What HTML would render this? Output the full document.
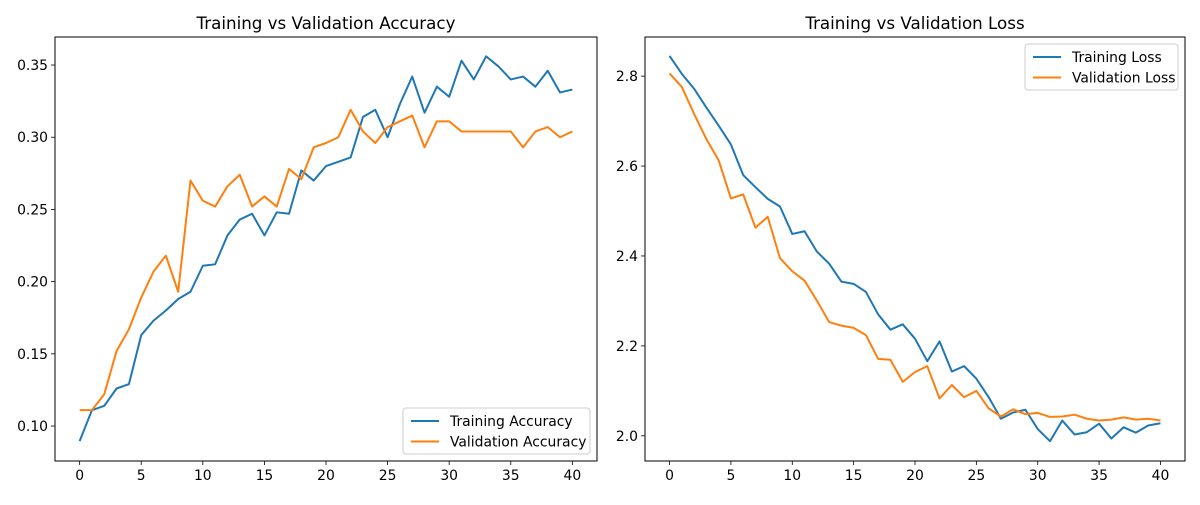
<!DOCTYPE html>
<html><head><meta charset="utf-8"><style>
body{margin:0;background:#fff}
svg text{font-family:"DejaVu Sans","Liberation Sans",sans-serif;fill:#000}
</style></head><body>
<svg id="c" width="1200" height="500" xmlns="http://www.w3.org/2000/svg"></svg>
<script>
const epochs = Array.from({length:41},(_,i)=>i);
const trainAcc=[0.0896,0.111,0.114,0.126,0.129,0.163,0.173,0.180,0.188,0.193,0.211,0.212,0.232,0.243,0.247,0.232,0.248,0.247,0.277,0.270,0.280,0.283,0.286,0.314,0.319,0.300,0.323,0.342,0.317,0.335,0.328,0.353,0.340,0.356,0.349,0.340,0.342,0.335,0.346,0.331,0.333];
const valAcc=[0.111,0.111,0.122,0.152,0.167,0.189,0.207,0.218,0.193,0.270,0.256,0.252,0.266,0.274,0.252,0.259,0.252,0.278,0.271,0.293,0.296,0.300,0.319,0.304,0.296,0.307,0.311,0.315,0.293,0.311,0.311,0.304,0.304,0.304,0.304,0.304,0.293,0.304,0.307,0.300,0.304];
const trainLoss=[2.845,2.805,2.772,2.73,2.69,2.648,2.58,2.553,2.527,2.51,2.449,2.455,2.41,2.383,2.343,2.338,2.32,2.27,2.236,2.248,2.216,2.166,2.21,2.143,2.155,2.127,2.086,2.038,2.052,2.058,2.015,1.988,2.034,2.003,2.008,2.027,1.994,2.019,2.007,2.023,2.028];
const valLoss=[2.806,2.776,2.716,2.66,2.613,2.528,2.537,2.463,2.487,2.395,2.366,2.345,2.301,2.253,2.245,2.240,2.224,2.171,2.169,2.12,2.142,2.155,2.083,2.113,2.086,2.1,2.061,2.043,2.059,2.048,2.051,2.042,2.043,2.047,2.038,2.034,2.036,2.041,2.036,2.038,2.034];
const xTicks=[0,5,10,15,20,25,30,35,40];
const accTicks=[0.10,0.15,0.20,0.25,0.30,0.35];
const lossTicks=[2.0,2.2,2.4,2.6,2.8];
const NS="http://www.w3.org/2000/svg";
const svg=document.getElementById('c');
function el(tag,attrs,parent){const e=document.createElementNS(NS,tag);for(const k in attrs)e.setAttribute(k,attrs[k]);(parent||svg).appendChild(e);return e;}
function panel(cfg){
  const g=el('g',{});
  
  
  const L=cfg.L,R=cfg.R,T=37,B=461;
  const sx=v=>L+(v-(-2))/(44)*(R-L);
  const sy=v=>B-(v-cfg.ymin)/(cfg.ymax-cfg.ymin)*(B-T);
  xTicks.forEach(t=>{
    el('line',{x1:sx(t),x2:sx(t),y1:B,y2:B+4,stroke:'#000','stroke-width':0.8},g);
    const tx=el('text',{x:sx(t),y:B+19,'text-anchor':'middle','font-size':'13.9'},g);
    tx.textContent=t;
    
    
  });
  cfg.yt.forEach(t=>{
    el('line',{x1:L-4,x2:L,y1:sy(t),y2:sy(t),stroke:'#000','stroke-width':0.8},g);
    const tx=el('text',{x:L-7,y:sy(t)+5,'text-anchor':'end','font-size':'13.9'},g);
    tx.textContent=t.toFixed(cfg.dec);
    
    
  });
  const series=[[cfg.a,'#1f77b4',cfg.la],[cfg.b,'#ff7f0e',cfg.lb]];
  series.forEach(([d,c,n])=>{
    const p=el('polyline',{points:d.map((v,i)=>sx(epochs[i])+','+sy(v)).join(' '),fill:'none',stroke:c,'stroke-width':2,'stroke-linejoin':'round'},g);
    
    
  });
  el('rect',{x:L,y:T,width:R-L,height:B-T,fill:'none',stroke:'#000','stroke-width':1},g);
  const ti=el('text',{x:(L+R)/2,y:T-8,'text-anchor':'middle','font-size':'16.7'},g);
  ti.textContent=cfg.title;
  
  
  const lg=el('g',{},g);
  
  
  el('rect',{x:cfg.lx,y:cfg.ly,width:cfg.lw,height:46,rx:3,fill:'#fff','fill-opacity':0.8,stroke:'#ccc'},lg);
  series.forEach(([d,c,n],i)=>{
    const yy=cfg.ly+13+i*20.5;
    el('line',{x1:cfg.lx+8,x2:cfg.lx+36,y1:yy,y2:yy,stroke:c,'stroke-width':2},lg);
    const t=el('text',{x:cfg.lx+47,y:yy+5,'font-size':'13.9'},lg);
    t.textContent=n;
    
    
  });
}
panel({name:'accuracy-panel',L:55,R:597,ymin:0.0758,ymax:0.3694,yt:accTicks,dec:2,a:trainAcc,b:valAcc,la:'Training Accuracy',lb:'Validation Accuracy',title:'Training vs Validation Accuracy',lx:403,ly:408,lw:187});
panel({name:'loss-panel',L:645,R:1185,ymin:1.944,ymax:2.887,yt:lossTicks,dec:1,a:trainLoss,b:valLoss,la:'Training Loss',lb:'Validation Loss',title:'Training vs Validation Loss',lx:1025,ly:44,lw:153});
</script>
</body></html>
